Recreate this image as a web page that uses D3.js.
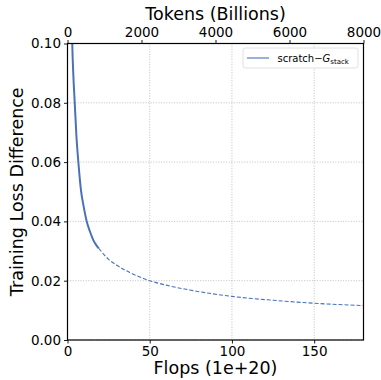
<!DOCTYPE html>
<html>
<head>
<meta charset="utf-8">
<script src="https://cdn.jsdelivr.net/npm/d3@7"></script>
<style>
  body { margin: 0; background: #fff; }
  text { font-family: "DejaVu Sans", sans-serif; fill: #000; }
</style>
</head>
<body>
<svg id="chart" width="381" height="380"></svg>
<script>
// measured run (solid) and fitted extrapolation (dashed)
var solidFlops = [1.6, 2.0, 2.4, 2.9, 3.5, 4.4, 5.4, 6.6, 8.2, 10.0, 11.7, 13.7, 15.7, 17.5, 19.0]
var solidLoss = [0.17, 0.14, 0.118, 0.100, 0.090, 0.080, 0.069, 0.060, 0.0505, 0.0445, 0.040, 0.0365, 0.0337, 0.0320, 0.0309]
var fitFlops = [19.0, 25, 30, 40, 50, 60, 75, 100, 125, 150, 180]
var fitLoss = [0.0309, 0.0272, 0.0252, 0.0222, 0.0200, 0.0185, 0.0168, 0.0147, 0.0134, 0.0124, 0.0116]

var xTicks = [0, 50, 100, 150]
var topTicks = [0, 2000, 4000, 6000, 8000]
var yTicks = [0, 0.02, 0.04, 0.06, 0.08, 0.10]
var seriesName = 'scratch\u2212'

var svg = d3.select('#chart')
// note: "top" is taken by window.top, so use pLeft/pTop etc.
var pLeft = 67.5, pRight = 363.5, pTop = 43.5, pBottom = 340
var color = '#4a72b8'

var x = d3.scaleLinear().domain([0, 180]).range([pLeft, pRight])
var xTop = d3.scaleLinear().domain([0, 8000]).range([pLeft, pRight])
var y = d3.scaleLinear().domain([0, 0.10]).range([pBottom, pTop])

// grid
var grid = svg.append('g')
grid.selectAll('.gx').data(xTicks).enter().append('line')
  .attr('x1', d => x(d)).attr('x2', d => x(d))
  .attr('y1', pTop).attr('y2', pBottom)
  .attr('stroke', '#b0b0b0').attr('stroke-width', 0.8).attr('stroke-dasharray', '1,1.6')
grid.selectAll('.gy').data(yTicks).enter().append('line')
  .attr('x1', pLeft).attr('x2', pRight)
  .attr('y1', d => y(d)).attr('y2', d => y(d))
  .attr('stroke', '#b0b0b0').attr('stroke-width', 0.8).attr('stroke-dasharray', '1,1.6')

svg.append('clipPath').attr('id', 'clip').append('rect')
  .attr('x', pLeft).attr('y', pTop).attr('width', pRight - pLeft).attr('height', pBottom - pTop)

var line = d3.line().x(d => x(d[0])).y(d => y(d[1])).curve(d3.curveMonotoneX)
var plot = svg.append('g').attr('clip-path', 'url(#clip)')
plot.append('path').datum(d3.zip(solidFlops, solidLoss))
  .attr('d', line).attr('fill', 'none').attr('stroke', color).attr('stroke-width', 2)
plot.append('path').datum(d3.zip(fitFlops, fitLoss))
  .attr('d', line).attr('fill', 'none').attr('stroke', color).attr('stroke-width', 1.1)
  .attr('stroke-dasharray', '4,2')

// axes
function styleAxis (g) {
  g.select('.domain').remove()
  g.selectAll('.tick line').attr('stroke', '#000').attr('stroke-width', 0.9)
  g.selectAll('.tick text').attr('font-size', 13.5).attr('font-family', 'DejaVu Sans')
}
svg.append('g').attr('transform', 'translate(0,' + pBottom + ')')
  .call(d3.axisBottom(x).tickValues(xTicks).tickSize(3.5).tickPadding(3).tickFormat(d3.format('d')))
  .call(styleAxis)
svg.append('g').attr('transform', 'translate(0,' + pTop + ')')
  .call(d3.axisTop(xTop).tickValues(topTicks).tickSize(3.5).tickPadding(3).tickFormat(d3.format('d')))
  .call(styleAxis)
svg.append('g').attr('transform', 'translate(' + pLeft + ',0)')
  .call(d3.axisLeft(y).tickValues(yTicks).tickSize(3.5).tickPadding(3).tickFormat(d3.format('.2f')))
  .call(styleAxis)

svg.append('rect').attr('x', pLeft).attr('y', pTop)
  .attr('width', pRight - pLeft).attr('height', pBottom - pTop)
  .attr('fill', 'none').attr('stroke', '#000').attr('stroke-width', 1.2)

// labels
svg.append('text').attr('x', (pLeft + pRight) / 2).attr('y', 374)
  .attr('text-anchor', 'middle').attr('font-size', 17.5).text('Flops (1e+20)')
svg.append('text').attr('x', (pLeft + pRight) / 2).attr('y', 20)
  .attr('text-anchor', 'middle').attr('font-size', 17.5).text('Tokens (Billions)')
svg.append('text').attr('transform', 'translate(23,' + ((pTop + pBottom) / 2) + ') rotate(-90)')
  .attr('text-anchor', 'middle').attr('font-size', 17.5).text('Training Loss Difference')

// legend
var lg = svg.append('g')
lg.append('rect').attr('x', 243).attr('y', 48).attr('width', 115).attr('height', 20).attr('rx', 2.5)
  .attr('fill', '#fff').attr('fill-opacity', 0.8).attr('stroke', '#d8d8d8').attr('stroke-width', 0.8)
lg.append('line').attr('x1', 247).attr('x2', 269).attr('y1', 58).attr('y2', 58)
  .attr('stroke', color).attr('stroke-width', 1.1)
var lt = lg.append('text').attr('x', 277.5).attr('y', 61.5).attr('font-size', 10)
lt.append('tspan').text(seriesName)
lt.append('tspan').attr('font-style', 'italic').text('G')
lt.append('tspan').attr('font-size', 7).attr('dy', 2).text('stack')
</script>
</body>
</html>
